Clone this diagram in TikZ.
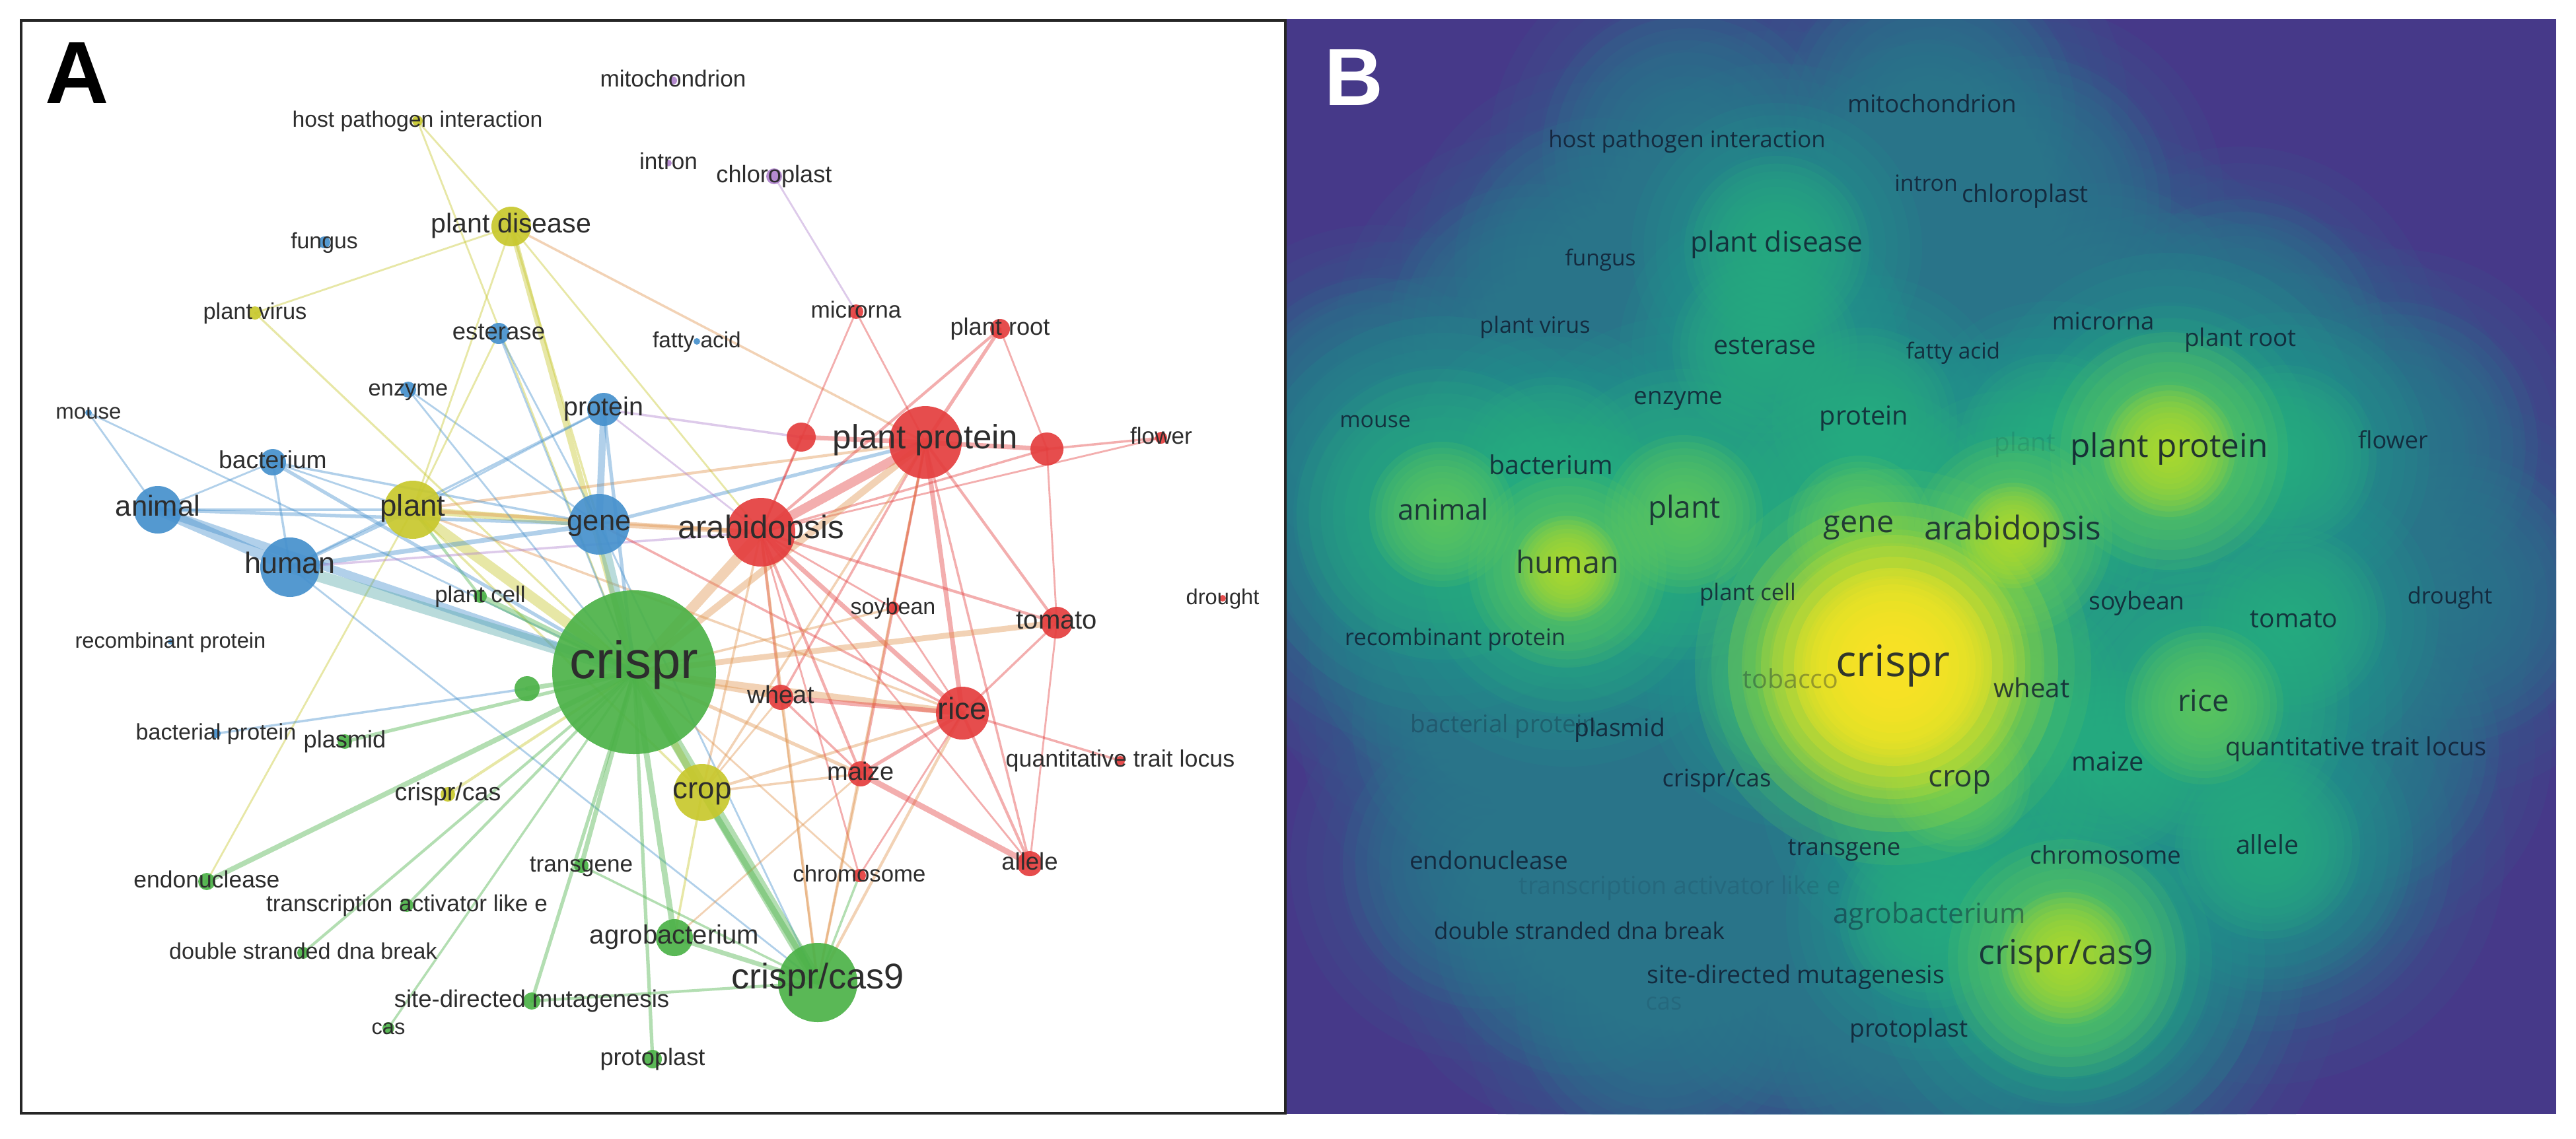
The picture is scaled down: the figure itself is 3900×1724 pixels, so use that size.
\documentclass[tikz,border=0pt]{standalone}
\usepackage{fontspec}
\setmainfont{Liberation Sans}
\newfontfamily\osans{Open Sans}
\pgfdeclarelayer{pagebg}
\pgfdeclarelayer{edgelayer}
\pgfsetlayers{pagebg,edgelayer,main}
\definecolor{vred}{RGB}{228,62,62}
\definecolor{vgreen}{RGB}{76,178,72}
\definecolor{vblue}{RGB}{70,145,205}
\definecolor{vyellow}{RGB}{200,200,45}
\definecolor{vpurple}{RGB}{175,130,205}
\definecolor{vorange}{RGB}{225,150,80}
\definecolor{vteal}{RGB}{90,170,170}
\definecolor{labc}{RGB}{45,45,45}
\definecolor{bbg}{RGB}{70,57,137}
\definecolor{ca}{RGB}{54,92,141}
\definecolor{cb}{RGB}{41,122,142}
\definecolor{cc}{RGB}{33,148,139}
\definecolor{cd}{RGB}{42,175,127}
\definecolor{ce}{RGB}{100,203,93}
\definecolor{cf}{RGB}{185,222,41}
\definecolor{cg}{RGB}{253,231,37}
\definecolor{btxt}{RGB}{15,25,45}
\tikzset{
  dot/.style={circle, inner sep=0pt, draw=none, fill opacity=0.92},
  alab/.style={font=\fontsize{#1}{#1}\selectfont, text=labc, inner sep=0pt, text height=0.72em, text depth=0.2em},
  blab/.style={font=\osans\fontsize{#1}{#1}\selectfont, text=btxt, inner sep=0pt, text height=0.72em, text depth=0.2em},
  edge/.style={draw opacity=0.42, line cap=round},
  panelletter/.style={font=\bfseries\fontsize{#1}{#1}\selectfont, inner sep=0pt},
}
\newcommand\glowring[4]{\foreach \gi in {1,...,12}{\fill[#1, fill opacity=0.15] (#2,#3) circle ({#4*\gi/12});}}
\def\bnodes{2922/169/3,2555/226/3,2915/286/3,3067/305/3,2690/376/2,2422/399/3,2323/499/3,3184/497/3,3391/522/3,2672/528/2,2956/539/3,2542/608/3,2084/641/3,2823/636/2,3106/676/2,3284/683/1,3458/693/2,3622/677/3,2348/711/2,2183/779/1,2549/779/1,2816/800/1,3048/811/1,2373/861/1,2645/902/3,3237/919/3,3710/905/3,3472/939/2,2201/967/3,2866/1010/1,2713/1033/2,3076/1046/2,3337/1068/1,2267/1097/3,2451/1108/3,3563/1136/3,3191/1155/2,2599/1184/3,2964/1181/1,3433/1282/2,2790/1285/3,3189/1299/3,2253/1308/3,2540/1341/3,2924/1387/2,2392/1409/3,3129/1451/1,2719/1478/3,2514/1516/3,2893/1560/3}
\begin{document}
\begin{tikzpicture}[x=0.1mm,y=-0.1mm]
\useasboundingbox (0,0) rectangle (3900,1724);
\begin{pgfonlayer}{pagebg}
\fill[white] (0,0) rectangle (3900,1724);
\end{pgfonlayer}
% ---------------- Panel A ----------------
\draw[line width=1pt, draw=black!85] (32,31) rectangle (1946,1686);
\node[panelletter=38, anchor=north west] (letterA) at (68,64) {A};
\foreach \n/\x/\y/\r/\c in {
mito/1019/122/6/vpurple, hpi/632/183/8/vyellow, intron/1012/247/5/vpurple, chloro/1172/267/12/vpurple,
pdis/774/343/30/vyellow, fungus/491/367/9/vblue, pvirus/386/474/10/vyellow, microrna/1296/472/11/vred,
proot/1514/498/15/vred, esterase/755/505/16/vblue, fatty/1055/517/5/vblue, enzyme/618/590/12/vblue,
mouse/134/625/5/vblue, protein/914/620/25/vblue, ureda/1213/662/22/vred, pprot/1401/670/55/vred,
uredb/1585/680/25/vred, flower/1758/663/9/vred, bacterium/413/700/20/vblue, animal/239/772/36/vblue,
plant/625/772/44/vyellow, gene/907/794/46/vblue, arabid/1152/806/52/vred, human/439/859/45/vblue,
pcell/727/903/10/vgreen, soybean/1352/921/10/vred, drought/1851/906/5/vred, tomato/1600/943/24/vred,
recomb/258/972/4/vblue, crispr/960/1018/124/vgreen, ugreen/798/1043/19/vgreen, wheat/1182/1056/19/vred,
rice/1457/1080/40/vred, bactprot/327/1111/7/vblue, plasmid/522/1123/11/vgreen, qtl/1696/1152/7/vred,
maize/1303/1172/19/vred, ccas/678/1203/11/vyellow, crop/1063/1200/43/vyellow, allele/1559/1308/19/vred,
transgene/880/1311/11/vgreen, chromosome/1301/1326/10/vred, endo/313/1335/13/vgreen, tale/616/1371/10/vgreen,
agro/1021/1420/28/vgreen, dsb/459/1443/9/vgreen, cas9/1238/1488/60/vgreen, sdm/805/1516/13/vgreen,
cas/588/1557/9/vgreen, protoplast/988/1604/14/vgreen}
  \node[dot, fill=\c, minimum size=\r*0.2mm] (\n) at (\x,\y) {};
\begin{pgfonlayer}{edgelayer}
\foreach \a/\b/\c/\w in {
hpi/pdis/vyellow/0.8, hpi/crispr/vyellow/0.8, pdis/pvirus/vyellow/0.8, pdis/plant/vyellow/0.8,
pdis/crispr/vyellow/2.4, pdis/gene/vyellow/1.0, pdis/pprot/vorange/1.0, pdis/arabid/vyellow/0.8,
pvirus/crispr/vyellow/0.9, plant/crispr/vyellow/4.5, plant/gene/vyellow/3, plant/arabid/vorange/1.5,
plant/pprot/vorange/1.2, plant/human/vblue/1.5, plant/animal/vblue/1.2, plant/crop/vyellow/1.0,
plant/endo/vyellow/0.8, plant/protein/vblue/0.8, plant/pcell/vgreen/1.2, plant/rice/vorange/1.0,
crop/crispr/vyellow/3.0, crop/cas9/vgreen/2.5, crop/agro/vyellow/1.0, crop/rice/vorange/1.2,
crop/maize/vorange/1.0, crop/arabid/vorange/1.0, crop/wheat/vorange/0.8, ccas/crispr/vyellow/1.2,
endo/crispr/vgreen/2.2, mouse/animal/vblue/0.8, mouse/crispr/vblue/0.8, animal/human/vblue/4.5,
animal/crispr/vblue/3.5, animal/gene/vblue/1.5, animal/bacterium/vblue/0.8, bacterium/human/vblue/1.0,
bacterium/crispr/vblue/1.5, bacterium/gene/vblue/1.0, bacterium/plant/vblue/0.8, human/crispr/vteal/5,
human/gene/vblue/2.0, human/cas9/vblue/0.8, human/arabid/vpurple/1.0, gene/crispr/vteal/4.5,
gene/protein/vblue/3.0, gene/arabid/vorange/2.0, gene/pprot/vblue/1.5, gene/rice/vred/1.0,
gene/cas9/vblue/0.8, protein/crispr/vblue/1.5, protein/ureda/vpurple/1.0, protein/arabid/vpurple/0.8,
protein/human/vblue/1.0, enzyme/gene/vblue/0.8, enzyme/crispr/vblue/0.8, esterase/crispr/vblue/0.8,
esterase/plant/vyellow/0.8, esterase/gene/vblue/0.8, bactprot/ugreen/vblue/1.0, chloro/microrna/vpurple/0.8,
microrna/pprot/vred/0.8, microrna/arabid/vred/0.8, proot/pprot/vred/1.5, proot/arabid/vred/1.2,
proot/uredb/vred/0.8, flower/uredb/vred/1.0, flower/arabid/vred/0.8, ureda/pprot/vred/2.0,
ureda/arabid/vred/1.0, uredb/pprot/vred/2.0, uredb/arabid/vred/1.0, pprot/arabid/vred/4.0,
pprot/crispr/vorange/3.0, pprot/rice/vred/2.0, pprot/tomato/vred/1.2, pprot/maize/vred/1.2,
pprot/wheat/vred/1.0, pprot/soybean/vred/0.8, pprot/allele/vred/1.0, pprot/crop/vorange/1.0,
pprot/cas9/vorange/1.0, arabid/crispr/vorange/4.5, arabid/rice/vred/2.0, arabid/wheat/vred/1.2,
arabid/maize/vred/1.2, arabid/tomato/vred/1.2, arabid/soybean/vred/0.8, arabid/cas9/vorange/1.2,
arabid/allele/vred/0.8, arabid/chromosome/vred/0.8, tomato/crispr/vorange/2.5, tomato/rice/vred/1.0,
tomato/allele/vred/0.8, tomato/uredb/vred/0.8, rice/crispr/vorange/3.0, rice/wheat/vred/2.0,
rice/maize/vred/1.5, rice/qtl/vred/1.0, rice/allele/vred/1.2, rice/soybean/vred/0.8,
rice/cas9/vorange/1.2, rice/chromosome/vred/0.8, wheat/crispr/vorange/2.0, wheat/maize/vred/1.0,
wheat/cas9/vorange/0.8, maize/allele/vred/2.5, maize/crispr/vorange/1.5, maize/cas9/vorange/1.0,
maize/agro/vorange/0.8, soybean/crispr/vorange/1.0, chromosome/crispr/vorange/0.8,
crispr/ugreen/vgreen/2, crispr/plasmid/vgreen/1.5, crispr/pcell/vgreen/2.5, crispr/tale/vgreen/1.2,
crispr/dsb/vgreen/1.2, crispr/cas/vgreen/1.0, crispr/sdm/vgreen/1.5, crispr/transgene/vgreen/2.0,
crispr/agro/vgreen/2.5, crispr/cas9/vgreen/5, crispr/protoplast/vgreen/1.5, agro/cas9/vgreen/2.0,
sdm/cas9/vgreen/1.2, transgene/cas9/vgreen/1.0, chromosome/cas9/vgreen/1.0}
  \draw[edge, draw=\c, line width=\w*1pt] (\a.center) -- (\b.center);
\end{pgfonlayer}
\foreach \n/\s/\t in {
mito/10/mitochondrion, hpi/9.6/host pathogen interaction, intron/10/intron, chloro/10.3/chloroplast,
pdis/11.7/plant disease, fungus/9.6/fungus, pvirus/9.8/plant virus, microrna/10/microrna,
proot/10.3/plant root, esterase/10.4/esterase, fatty/9.5/fatty acid, enzyme/9.8/enzyme,
mouse/9.4/mouse, protein/11.2/protein, pprot/14.5/plant protein, flower/10/flower,
bacterium/10.6/bacterium, animal/12.4/animal, plant/13/plant, gene/12.4/gene,
arabid/14/arabidopsis, human/12.8/human, pcell/9.9/plant cell, soybean/9.7/soybean,
drought/9.3/drought, tomato/11.4/tomato, recomb/9.3/recombinant protein, crispr/22.7/crispr,
wheat/10.8/wheat, rice/13.2/rice, bactprot/9.7/bacterial protein, plasmid/10.3/plasmid,
qtl/10.2/quantitative trait locus, maize/10.8/maize, ccas/10.7/crispr{/}cas, crop/13/crop,
allele/10.4/allele, transgene/10/transgene, chromosome/9.9/chromosome, endo/10.1/endonuclease,
tale/10/transcription activator like e, agro/11.4/agrobacterium, dsb/9.7/double stranded dna break,
cas9/15.4/crispr{/}cas9, sdm/10.4/site-directed mutagenesis, cas/9.3/cas, protoplast/10.3/protoplast}
  \node[alab=\s] (\n-l) at (\n) {\t};
% ---------------- Panel B ----------------
\begin{scope}
\clip (1948,29) rectangle (3870,1687);
\fill[bbg] (1948,29) rectangle (3870,1687);
\foreach \x/\y/\w in \bnodes {
  \pgfmathsetmacro\R{\w==1?420:(\w==2?360:300)}
  \glowring{ca}{\x}{\y}{\R}
}
\foreach \x/\y/\w in \bnodes {
  \pgfmathsetmacro\R{\w==1?360:(\w==2?280:220)}
  \glowring{cb}{\x}{\y}{\R}
}
\foreach \x/\y/\w in \bnodes {
  \ifnum\w<3
  \pgfmathsetmacro\R{\w==1?300:220}
  \glowring{cc}{\x}{\y}{\R}
  \fi
}
\foreach \x/\y/\w in \bnodes {
  \ifnum\w<3
  \pgfmathsetmacro\R{\w==1?220:140}
  \glowring{cd}{\x}{\y}{\R}
  \fi
}
\foreach \x/\y/\R in {2866/1010/300, 3284/683/180, 3048/811/150, 2373/861/150, 3129/1451/180, 2549/779/120, 2816/800/110, 3337/1068/120, 2964/1181/110, 2183/779/110}
  {\glowring{ce}{\x}{\y}{\R}}
\foreach \x/\y/\R in {2866/1010/250, 3284/683/100, 3048/811/80, 3129/1451/100, 2373/861/80}
  {\glowring{cf}{\x}{\y}{\R}}
\glowring{cg}{2866}{1010}{200}
\glowring{cg}{2866}{1010}{150}
\end{scope}
\node[panelletter=35, anchor=north west, text=white] (letterB) at (2005,74) {B};
\foreach \n/\x/\y/\s/\o/\t in {
bmito/2925/161/10.5/0.8/mitochondrion, bhpi/2554/214/9.9/0.8/host pathogen interaction,
bintron/2916/280/9.6/0.8/intron, bchloro/3066/297/10.5/0.8/chloroplast,
bpdis/2690/372/12.1/0.8/plant disease, bfungus/2423/393/9.5/0.8/fungus,
bpvirus/2324/495/9.7/0.8/plant virus, bmicrorna/3184/490/10.4/0.8/microrna,
bproot/3392/515/10.5/0.8/plant root, besterase/2672/527/11.2/0.8/esterase,
bfatty/2957/534/9.5/0.8/fatty acid, benzyme/2541/603/10.5/0.8/enzyme,
bmouse/2082/638/9.6/0.8/mouse, bprotein/2822/634/11.3/0.8/protein,
bplantf/3066/674/11/0.12/plant, bpprot/3284/683/14.1/0.85/plant protein,
bflower/3623/670/10.3/0.8/flower, bbacterium/2348/709/11.2/0.8/bacterium,
banimal/2185/778/12.4/0.8/animal, bplant/2550/775/13.1/0.8/plant,
bgene/2814/797/13.3/0.8/gene, barabid/3047/808/14.1/0.8/arabidopsis,
bhuman/2373/859/13.3/0.8/human, bpcell/2646/900/9.9/0.8/plant cell,
bsoybean/3235/914/10.6/0.8/soybean, bdrought/3709/905/9.8/0.8/drought,
btomato/3473/941/11.1/0.8/tomato, brecomb/2203/968/9.9/0.8/recombinant protein,
bcrispr/2866/1015/18.7/0.85/crispr, btobacco/2711/1033/11.2/0.35/tobacco,
bwheat/3076/1047/11.4/0.8/wheat, brice/3336/1068/13/0.8/rice,
bbactprot/2277/1100/10.5/0.3/bacterial protein, bplasmid/2452/1106/10.6/0.8/plasmid,
bqtl/3567/1135/10.8/0.8/quantitative trait locus, bmaize/3191/1158/11.3/0.8/maize,
bccas/2599/1182/10.4/0.8/crispr{/}cas, bcrop/2967/1182/13.1/0.8/crop,
ballele/3433/1284/11.2/0.8/allele, btransgene/2792/1286/10.4/0.8/transgene,
bchromosome/3188/1299/10.5/0.8/chromosome, bendo/2254/1307/10.5/0.8/endonuclease,
btale/2543/1345/10.7/0.12/transcription activator like e, bagro/2921/1389/12.1/0.45/agrobacterium,
bdsb/2391/1413/9.9/0.8/double stranded dna break, bcas9/3128/1451/14.8/0.8/crispr{/}cas9,
bsdm/2719/1480/10.7/0.8/site-directed mutagenesis, bcas/2519/1520/10.3/0.12/cas,
bprotoplast/2890/1561/10.6/0.8/protoplast}
  \node[blab=\s, text opacity=\o] (\n) at (\x,\y) {\t};
\end{tikzpicture}
\end{document}
